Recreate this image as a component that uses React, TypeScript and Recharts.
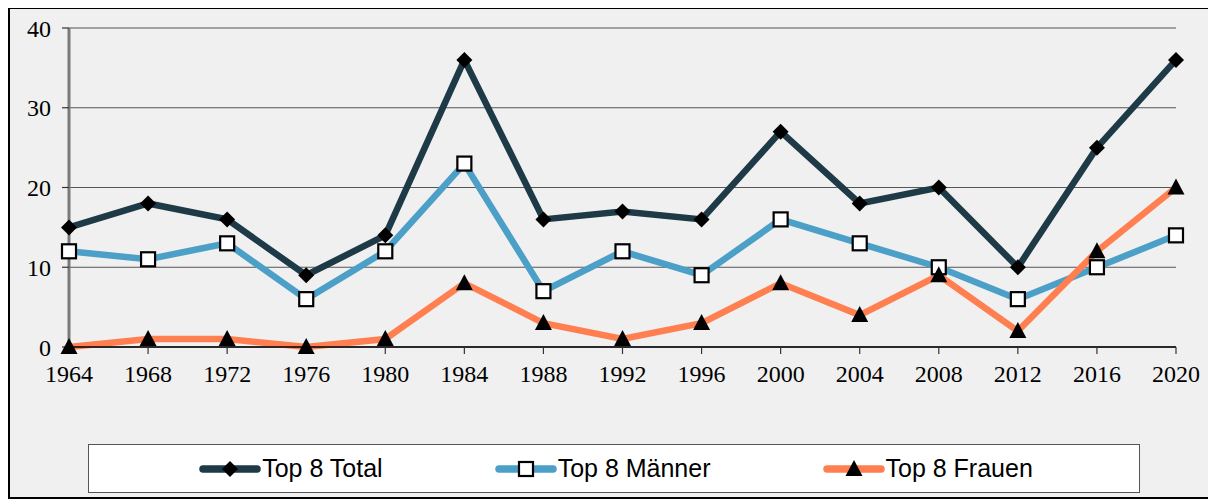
import React from 'react';
import { LineChart, Line, XAxis, YAxis, CartesianGrid } from 'recharts';

const years = ['1964', '1968', '1972', '1976', '1980', '1984', '1988', '1992', '1996', '2000', '2004', '2008', '2012', '2016', '2020'];
const total = [15, 18, 16, 9, 14, 36, 16, 17, 16, 27, 18, 20, 10, 25, 36];
const maenner = [12, 11, 13, 6, 12, 23, 7, 12, 9, 16, 13, 10, 6, 10, 14];
const frauen = [0, 1, 1, 0, 1, 8, 3, 1, 3, 8, 4, 9, 2, 12, 20];
const yTicks = [0, 10, 20, 30, 40];

const data = years.map((year, i) => ({
  year,
  total: total[i],
  maenner: maenner[i],
  frauen: frauen[i],
}));

const COLORS = { total: '#1d3a46', maenner: '#4c9fc7', frauen: '#ff7f50' };
const serif = '"Liberation Serif", "Times New Roman", serif';
const sans = '"Liberation Sans", Arial, sans-serif';

// marker shapes, drawn around the point recharts hands us
const diamond = (cx: number, cy: number) => (
  <polygon points={`${cx},${cy - 8} ${cx + 8},${cy} ${cx},${cy + 8} ${cx - 8},${cy}`} fill="#000" />
);
const square = (cx: number, cy: number) => (
  <rect x={cx - 7} y={cy - 7} width={14} height={14} fill="#fff" stroke="#000" strokeWidth={2.2} />
);
const triangle = (cx: number, cy: number) => (
  <polygon points={`${cx},${cy - 9} ${cx + 8.5},${cy + 7} ${cx - 8.5},${cy + 7}`} fill="#000" />
);

const makeDot = (shape: (cx: number, cy: number) => React.ReactElement) => (props: any) => {
  const { cx, cy, index } = props;
  if (cx == null || cy == null) return <g key={index} />;
  return <g key={index}>{shape(cx, cy)}</g>;
};

const series = [
  { key: 'total', name: 'Top 8 Total', color: COLORS.total, shape: diamond },
  { key: 'maenner', name: 'Top 8 Männer', color: COLORS.maenner, shape: square },
  { key: 'frauen', name: 'Top 8 Frauen', color: COLORS.frauen, shape: triangle },
];

const LegendBox = () => (
  <div
    style={{
      position: 'absolute',
      left: 78,
      top: 435,
      width: 1052,
      height: 49,
      boxSizing: 'border-box',
      border: '1.5px solid #555',
      background: '#fff',
      display: 'flex',
      alignItems: 'center',
      justifyContent: 'center',
      gap: 112,
      paddingLeft: 4,
    }}
  >
    {series.map((s) => (
      <div key={s.key} style={{ display: 'flex', alignItems: 'center' }}>
        <svg width={62} height={20} style={{ marginRight: 1 }}>
          <line x1={4} y1={10} x2={58} y2={10} stroke={s.color} strokeWidth={7.5} strokeLinecap="round" />
          {s.shape(31, 10)}
        </svg>
        <span style={{ fontFamily: sans, fontSize: 25, color: '#000', lineHeight: 1 }}>{s.name}</span>
      </div>
    ))}
  </div>
);

export default function App() {
  return (
    <div
      style={{
        position: 'relative',
        width: 1208,
        height: 492,
        marginTop: -1,
        boxSizing: 'border-box',
        border: '2px solid #000',
        background: '#f0f0f0',
      }}
    >
      <LineChart width={1204} height={489} data={data} margin={{ top: 19, right: 38, left: 0, bottom: 121 }}>
        <CartesianGrid vertical={false} stroke="#555" strokeWidth={1} />
        <XAxis
          dataKey="year"
          height={30}
          axisLine={{ stroke: '#000', strokeWidth: 1.5 }}
          tickLine={{ stroke: '#333', strokeWidth: 1.2 }}
          tickSize={7}
          tickMargin={11}
          interval={0}
          tick={{ fontFamily: serif, fontSize: 24, fill: '#000' }}
        />
        <XAxis xAxisId="top" dataKey="year" orientation="top" height={0} tick={false} tickLine={false} axisLine={{ stroke: '#8a8a8a', strokeWidth: 2.5 }} />
        <YAxis
          domain={[0, 40]}
          ticks={yTicks}
          width={59}
          axisLine={{ stroke: '#7a7a7a', strokeWidth: 3 }}
          tickLine={{ stroke: '#333', strokeWidth: 1.2 }}
          tickSize={7}
          tickMargin={11}
          tick={{ fontFamily: serif, fontSize: 24, fill: '#000' }}
        />
        <YAxis yAxisId="right" orientation="right" domain={[0, 40]} width={0} tick={false} tickLine={false} axisLine={{ stroke: '#8a8a8a', strokeWidth: 2.5 }} />
        {series.map((s) => (
          <Line
            key={s.key}
            type="linear"
            dataKey={s.key}
            name={s.name}
            stroke={s.color}
            strokeWidth={6.5}
            dot={makeDot(s.shape)}
            activeDot={false}
            isAnimationActive={false}
          />
        ))}
      </LineChart>
      <LegendBox />
    </div>
  );
}
